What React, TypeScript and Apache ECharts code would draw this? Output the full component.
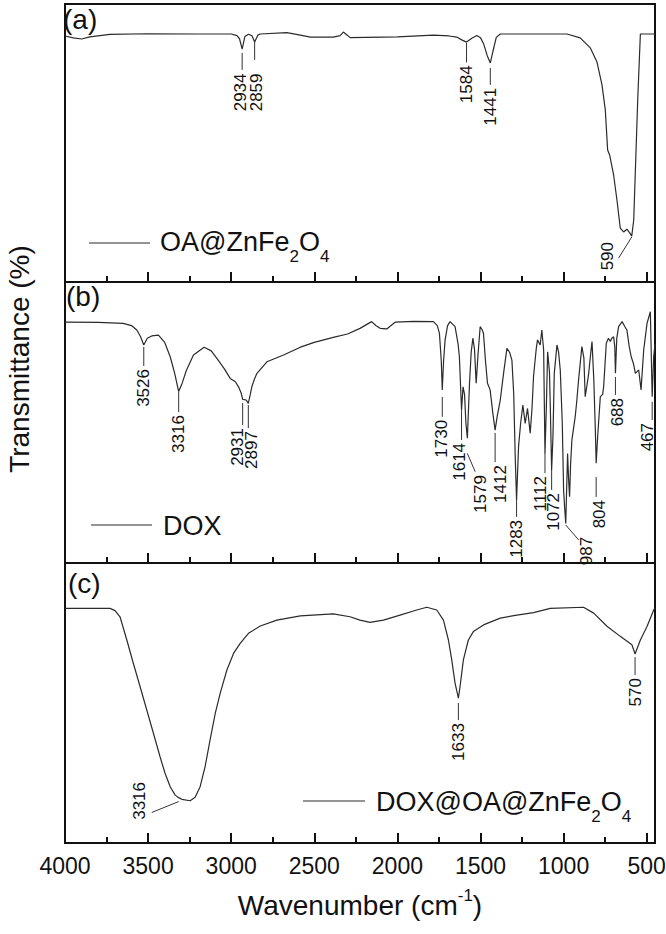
import React, { useEffect, useRef } from "react";
import * as echarts from "echarts";

const FONT = '"Liberation Sans", Arial, Helvetica, sans-serif';
const INK = "#111";
const TRACE = "#2b2b2b";

// Shared wavenumber axis (cm-1), drawn high to low
const wnMin = 450;
const wnMax = 4000;
const majorTicks = [4000, 3500, 3000, 2500, 2000, 1500, 1000, 500];
const minorTicks = [3750, 3250, 2750, 2250, 1750, 1250, 750];

// (a) OA@ZnFe2O4 — [wavenumber, transmittance]
const spectrumA: [number, number][] = [
  [4000, 88.5], [3950, 87.8], [3900, 87.4], [3850, 88.2], [3730, 89.1], [3500, 89.3],
  [3200, 89.2], [3000, 89.2], [2965, 88.6], [2950, 87.5], [2934, 83.8], [2918, 88.3],
  [2896, 89.1], [2875, 88.6], [2859, 86.3], [2840, 88.8], [2825, 89.2], [2665, 89.7],
  [2600, 89.0], [2524, 88.1], [2386, 88.1], [2345, 88.6], [2325, 89.9], [2300, 88.7],
  [2285, 87.9], [2000, 88.2], [1783, 88.8], [1690, 88.5], [1643, 88.1], [1610, 87.0],
  [1584, 86.3], [1550, 87.8], [1522, 88.7], [1500, 87.9], [1480, 85.5], [1460, 81.5],
  [1441, 78.8], [1425, 83.0], [1405, 88.0], [1381, 89.2], [980, 89.2], [900, 87.8],
  [839, 84.2], [799, 79.1], [769, 70.9], [749, 61.9], [735, 47.5], [723, 45.7],
  [699, 38.5], [679, 29.5], [659, 19.4], [639, 18.0], [619, 19.0], [600, 17.5],
  [590, 16.5], [578, 22.3], [568, 40.3], [554, 65.5], [538, 89.2], [450, 89.2],
];

// (b) DOX
const spectrumB: [number, number][] = [
  [4000, 85.7], [3800, 85.6], [3650, 85.3], [3600, 84.5], [3568, 82.9], [3545, 80.5],
  [3526, 77.6], [3505, 80.0], [3478, 80.8], [3438, 81.1], [3400, 78.5], [3367, 73.4],
  [3340, 67.5], [3316, 61.0], [3295, 64.0], [3270, 68.5], [3227, 74.0], [3163, 76.8],
  [3120, 75.5], [3086, 72.8], [3040, 69.0], [3006, 65.7], [2975, 64.5], [2956, 62.7],
  [2940, 60.5], [2931, 58.2], [2910, 58.0], [2897, 56.8], [2885, 60.0], [2876, 62.7],
  [2860, 65.5], [2845, 67.5], [2785, 71.6], [2685, 74.0], [2584, 76.8], [2500, 78.5],
  [2386, 80.3], [2300, 81.5], [2225, 83.5], [2155, 85.9], [2130, 84.5], [2104, 83.5],
  [2064, 83.3], [2014, 85.7], [1900, 86.0], [1783, 85.9], [1760, 84.5], [1747, 81.7],
  [1736, 72.0], [1730, 61.6], [1722, 72.0], [1713, 79.4], [1698, 84.5], [1683, 85.9],
  [1653, 84.1], [1635, 78.0], [1627, 73.4], [1614, 54.4], [1605, 62.7], [1596, 60.0],
  [1588, 50.0], [1579, 44.4], [1566, 64.0], [1556, 75.0], [1546, 80.0], [1536, 76.0],
  [1526, 64.0], [1515, 74.0], [1502, 84.1], [1490, 83.0], [1482, 81.7], [1470, 72.0],
  [1458, 64.0], [1442, 61.6], [1425, 53.0], [1412, 47.3], [1400, 52.0], [1381, 58.0],
  [1360, 68.0], [1341, 76.4], [1325, 75.0], [1311, 72.2], [1300, 60.0], [1291, 37.8],
  [1283, 22.4], [1271, 41.4], [1258, 50.0], [1245, 56.2], [1231, 49.7], [1217, 55.0],
  [1201, 46.2], [1190, 55.0], [1181, 66.3], [1165, 76.0], [1157, 79.4], [1141, 77.6],
  [1131, 82.9], [1120, 75.8], [1112, 39.0], [1104, 55.0], [1096, 75.2], [1085, 68.0],
  [1080, 55.6], [1072, 33.1], [1064, 45.0], [1056, 67.5], [1040, 77.6], [1030, 75.0],
  [1020, 68.7], [1008, 50.0], [1000, 26.0], [994, 20.0], [987, 14.1], [980, 30.0],
  [976, 39.0], [970, 30.0], [964, 23.6], [958, 35.0], [950, 43.8], [930, 52.1],
  [920, 58.0], [910, 65.1], [890, 77.0], [878, 73.0], [870, 59.2], [860, 63.0],
  [849, 67.5], [838, 74.0], [829, 78.8], [818, 65.0], [809, 47.3], [804, 35.5],
  [795, 45.0], [779, 59.2], [765, 60.0], [759, 62.7], [743, 78.2], [730, 80.0],
  [719, 78.8], [710, 80.0], [699, 80.5], [692, 77.0], [688, 67.5], [680, 80.0],
  [669, 84.1], [648, 85.9], [630, 84.0], [619, 82.9], [605, 77.0], [593, 73.4],
  [580, 71.0], [568, 67.5], [548, 68.7], [534, 61.6], [518, 75.8], [498, 85.3],
  [478, 89.4], [467, 59.2], [458, 73.4], [450, 78.0],
];

// (c) DOX@OA@ZnFe2O4
const spectrumC: [number, number][] = [
  [4000, 83.8], [3729, 83.8], [3699, 83.0], [3669, 80.8], [3628, 72.5], [3589, 64.2],
  [3548, 55.8], [3508, 47.5], [3468, 39.2], [3428, 30.8], [3398, 24.9], [3367, 20.1],
  [3337, 17.1], [3316, 16.2], [3297, 15.6], [3247, 15.1], [3217, 16.3], [3187, 20.1],
  [3157, 27.3], [3127, 36.8], [3096, 46.3], [3066, 53.5], [3026, 61.8], [2986, 67.7],
  [2946, 71.3], [2896, 74.9], [2825, 77.5], [2725, 79.6], [2584, 81.1], [2386, 81.8],
  [2285, 80.8], [2225, 79.6], [2165, 78.8], [2084, 79.6], [1984, 81.4], [1884, 83.2],
  [1823, 84.2], [1763, 83.2], [1723, 79.6], [1693, 72.5], [1673, 65.4], [1653, 57.1],
  [1633, 51.7], [1623, 55.9], [1603, 65.4], [1573, 72.5], [1543, 75.5], [1482, 77.9],
  [1381, 80.3], [1281, 81.4], [1181, 82.3], [1080, 83.8], [880, 84.2], [819, 82.1],
  [739, 77.4], [659, 73.8], [589, 70.8], [570, 67.5], [538, 72.5], [498, 77.3],
  [458, 83.2], [450, 84.0],
];

// Peak labels: leader from (w, top) down to (endW, bottom); label reads upward
type Peak = {
  w: number;
  top: number;
  bottom: number;
  endW?: number;
  dx?: number;
  textW?: number;
  textTop?: number;
};

const peaksA: Peak[] = [
  { w: 2934, top: 82.4, bottom: 76.3, textTop: 75, dx: -2 },
  { w: 2859, top: 87.0, bottom: 79.9, textTop: 75, dx: 2 },
  { w: 1584, top: 86.0, bottom: 79.0 },
  { w: 1441, top: 77.0, bottom: 70.9 },
  { w: 590, top: 16.2, bottom: 8.6, endW: 669, textW: 735, textTop: 14.4 },
];

const peaksB: Peak[] = [
  { w: 3526, top: 76.9, bottom: 70.1 },
  { w: 3316, top: 60.9, bottom: 53.7 },
  { w: 2931, top: 56.9, bottom: 49.1, dx: -5 },
  { w: 2897, top: 56.2, bottom: 48.0, dx: 3.5 },
  { w: 1730, top: 59.1, bottom: 52.0, dx: -1 },
  { w: 1614, top: 54.4, bottom: 43.8, dx: -2 },
  { w: 1579, top: 39.0, bottom: 32.5, endW: 1532, textW: 1500, textTop: 31.3 },
  { w: 1412, top: 46.3, bottom: 35.9, dx: 5 },
  { w: 1283, top: 22.4, bottom: 16.4 },
  { w: 1112, top: 39.1, bottom: 32.0, dx: -4 },
  { w: 1072, top: 33.1, bottom: 26.0, dx: 2 },
  { w: 987, top: 13.5, bottom: 8.2, endW: 909, textW: 861, textTop: 9.3 },
  { w: 804, top: 30.6, bottom: 23.5, dx: 3 },
  { w: 688, top: 66.2, bottom: 59.8, dx: 2 },
  { w: 467, top: 57.4, bottom: 50.9, dx: -5 },
];

const peaksC: Peak[] = [
  { w: 3316, top: 14.8, bottom: 10.9, endW: 3478, textW: 3551, textTop: 21.8 },
  { w: 1633, top: 50.0, bottom: 43.9 },
  { w: 570, top: 66.4, bottom: 60.0 },
];

const panels = [
  { tag: "(a)", spectrum: spectrumA, peaks: peaksA },
  { tag: "(b)", spectrum: spectrumB, peaks: peaksB },
  { tag: "(c)", spectrum: spectrumC, peaks: peaksC },
];

const gridBoxes = [
  { top: 4, height: 278 },
  { top: 282, height: 281 },
  { top: 563, height: 280 },
];

function peakRenderer(peaks: Peak[]) {
  return (params: any, api: any) => {
    const p = peaks[params.dataIndex];
    const a = api.coord([p.w, p.top]);
    const b = api.coord([p.endW ?? p.w, p.bottom]);
    let tx: number;
    let ty: number;
    if (p.textW !== undefined && p.textTop !== undefined) {
      const t = api.coord([p.textW, p.textTop]);
      tx = t[0];
      ty = t[1];
    } else if (p.textTop !== undefined) {
      const t = api.coord([p.w, p.textTop]);
      tx = t[0] + (p.dx ?? 0);
      ty = t[1];
    } else {
      tx = b[0] + (p.dx ?? 0);
      ty = b[1] + 3;
    }
    return {
      type: "group",
      children: [
        {
          type: "line",
          shape: { x1: a[0], y1: a[1], x2: b[0], y2: b[1] },
          style: { stroke: "#333", lineWidth: 1 },
        },
        {
          type: "text",
          x: tx,
          y: ty,
          rotation: Math.PI / 2,
          style: {
            text: String(p.w),
            fontSize: 17,
            fontFamily: FONT,
            fill: INK,
            align: "right",
            verticalAlign: "middle",
          },
        },
      ],
    };
  };
}

export default function App() {
  const ref = useRef<HTMLDivElement>(null);

  useEffect(() => {
    if (!ref.current) return;
    const chart = echarts.init(ref.current, undefined, { renderer: "svg" });

    const grid = gridBoxes.map((g) => ({
      left: 65,
      width: 590,
      top: g.top,
      height: g.height,
      containLabel: false,
      outerBoundsMode: "none",
      show: true,
      borderColor: INK,
      borderWidth: 2,
      backgroundColor: "transparent",
    }));

    const majorAxes = panels.map((_, i) => ({
      type: "value",
      gridIndex: i,
      min: wnMin,
      max: wnMax,
      inverse: true,
      position: "bottom",
      axisLine: { show: false },
      splitLine: { show: false },
      axisTick: {
        show: true,
        inside: true,
        length: 10,
        customValues: majorTicks,
        lineStyle: { color: INK, width: 2 },
      },
      axisLabel: {
        show: i === 2,
        customValues: majorTicks,
        formatter: (v: number) => String(v),
        fontSize: 23,
        fontFamily: FONT,
        color: INK,
        margin: 11,
      },
      ...(i === 2
        ? {
            name: "Wavenumber (cm{sup|-1})",
            nameLocation: "middle",
            nameGap: 44,
            nameTextStyle: {
              fontSize: 28,
              fontFamily: FONT,
              color: INK,
              lineHeight: 36,
              rich: {
                sup: {
                  fontSize: 17,
                  fontFamily: FONT,
                  color: INK,
                  lineHeight: 16,
                  verticalAlign: "top",
                },
              },
            },
          }
        : {}),
    }));

    const minorAxes = panels.map((_, i) => ({
      type: "value",
      gridIndex: i,
      min: wnMin,
      max: wnMax,
      inverse: true,
      position: "bottom",
      axisLine: { show: false },
      splitLine: { show: false },
      axisLabel: { show: false },
      axisTick: {
        show: true,
        inside: true,
        length: 6,
        customValues: minorTicks,
        lineStyle: { color: INK, width: 2 },
      },
    }));

    const yAxes = panels.map((_, i) => ({
      type: "value",
      gridIndex: i,
      min: 0,
      max: 100,
      show: false,
    }));

    const lineSeries = panels.map((p, i) => ({
      type: "line",
      xAxisIndex: i,
      yAxisIndex: i,
      data: p.spectrum,
      showSymbol: false,
      symbol: "none",
      lineStyle: { color: TRACE, width: 1.2 },
      silent: true,
      z: 3,
    }));

    const peakSeries = panels.map((p, i) => ({
      type: "custom",
      xAxisIndex: i,
      yAxisIndex: i,
      coordinateSystem: "cartesian2d",
      data: p.peaks.map((k) => [k.w, k.top]),
      encode: { x: 0, y: 1 },
      renderItem: peakRenderer(p.peaks),
      clip: false,
      silent: true,
      z: 4,
    }));

    const tagPos = [
      { x: 63, y: 5 },
      { x: 66, y: 282 },
      { x: 68, y: 569 },
    ];

    const legendItems = [
      { x1: 89, x2: 150, y: 243, tx: 160, ty: 242, text: "{n|OA@ZnFe}{s|2}{n|O}{s|4}" },
      { x1: 91, x2: 152, y: 525, tx: 163, ty: 526, text: "{n|DOX}" },
      { x1: 303, x2: 365, y: 801, tx: 376, ty: 802, text: "{n|DOX@OA@ZnFe}{s|2}{n|O}{s|4}" },
    ];

    const richLegend = {
      n: { fontSize: 27, fontFamily: FONT, color: INK, lineHeight: 46, verticalAlign: "middle" },
      s: { fontSize: 17, fontFamily: FONT, color: INK, lineHeight: 20, verticalAlign: "bottom" },
    };

    const graphic: any[] = [];
    panels.forEach((p, i) => {
      graphic.push({
        type: "text",
        x: tagPos[i].x,
        y: tagPos[i].y,
        z: 10,
        style: { text: p.tag, fontSize: 28, fontFamily: FONT, fill: INK },
      });
      const L = legendItems[i];
      graphic.push({
        type: "line",
        shape: { x1: L.x1, y1: L.y, x2: L.x2, y2: L.y },
        style: { stroke: TRACE, lineWidth: 1 },
        z: 10,
      });
      graphic.push({
        type: "text",
        x: L.tx,
        y: L.ty,
        z: 10,
        style: {
          text: L.text,
          rich: richLegend,
          fill: INK,
          verticalAlign: "middle",
          align: "left",
        },
      });
    });
    graphic.push({
      type: "text",
      x: 19,
      y: 359,
      rotation: Math.PI / 2,
      z: 10,
      style: {
        text: "Transmittance (%)",
        fontSize: 28,
        fontFamily: FONT,
        fill: INK,
        align: "center",
        verticalAlign: "middle",
      },
    });

    chart.setOption({
      animation: false,
      backgroundColor: "#fff",
      grid,
      xAxis: [...majorAxes, ...minorAxes],
      yAxis: yAxes,
      series: [...lineSeries, ...peakSeries],
      graphic,
    } as any);

    return () => chart.dispose();
  }, []);

  return (
    <div
      ref={ref}
      style={{ position: "absolute", left: 0, top: 0, width: 666, height: 934, background: "#fff" }}
    />
  );
}
